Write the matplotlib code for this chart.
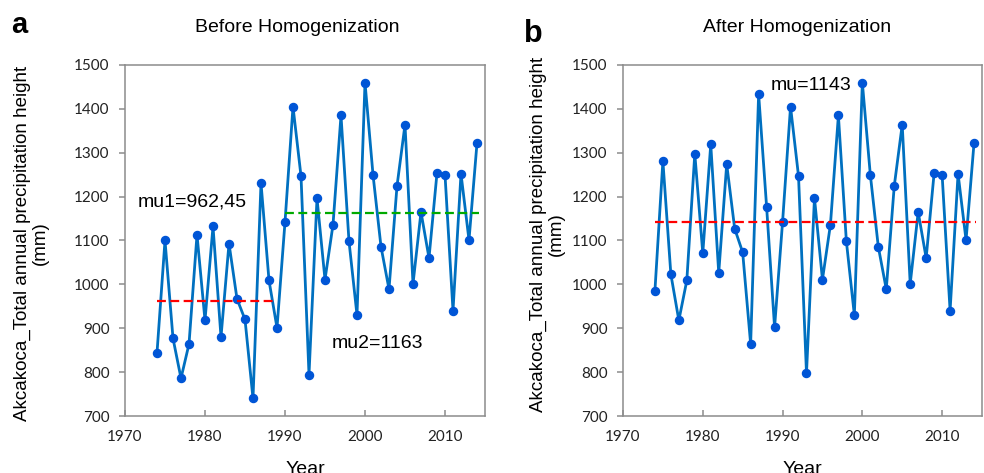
import matplotlib
matplotlib.use("Agg")
import matplotlib.pyplot as plt

# ---------------- data ----------------
years = list(range(1974, 2015))

before = [844, 1100, 877, 786, 864, 1113, 918, 1132, 880, 1093,
          967, 920, 740, 1231, 1009, 901, 1142, 1405, 1247, 794,
          1196, 1011, 1136, 1385, 1098, 930, 1460, 1250, 1086, 989,
          1224, 1364, 1001, 1165, 1060, 1254, 1250, 940, 1252, 1101, 1322]

after = [985, 1281, 1023, 918, 1009, 1298, 1071, 1319, 1026, 1274,
         1127, 1073, 864, 1434, 1177, 902, 1142, 1405, 1247, 797,
         1197, 1011, 1136, 1385, 1098, 930, 1460, 1250, 1086, 989,
         1224, 1364, 1001, 1165, 1060, 1254, 1250, 940, 1252, 1101, 1322]

mu1_years = [1974, 1988.7]
mu1 = 962.45
mu2_years = [1990, 2014.3]
mu2 = 1163
mu_years = [1974, 2014.3]
mu = 1143

xticks = [1970, 1980, 1990, 2000, 2010]
yticks = [700, 800, 900, 1000, 1100, 1200, 1300, 1400, 1500]

titles = ["Before Homogenization", "After Homogenization"]
panel_letters = ["a", "b"]
ylabel = "Akcakoca_Total annual precipitation height\n(mm)"
xlabel = "Year"

# ---------------- style ----------------
W, H = 984, 473
LINE_C = "#0070C0"
MARK_C = "#0055D6"
SPINE_C = "#8c8c8c"
TEXT_FONT = ["Liberation Sans", "DejaVu Sans"]
TICK_FONT = ["Lato", "DejaVu Sans"]

fig = plt.figure(figsize=(W / 100, H / 100), dpi=100)


def fx(px):
    return px / W


def fy(py):
    return 1 - py / H


ax1 = fig.add_axes([fx(125), fy(416), (485 - 125) / W, (416 - 65) / H])
ax2 = fig.add_axes([fx(623), fy(416), (982 - 623) / W, (416 - 65) / H])

for ax, data in ((ax1, before), (ax2, after)):
    ax.plot(years, data, color=LINE_C, lw=2.0, marker="o", ms=5.8,
            mfc=MARK_C, mec=MARK_C, zorder=3)
    ax.set_xlim(1970, 2015)
    ax.set_ylim(700, 1500)
    ax.set_xticks(xticks)
    ax.set_yticks(yticks)
    for sp in ax.spines.values():
        sp.set_color(SPINE_C)
        sp.set_linewidth(1.1)
    ax.tick_params(axis="y", direction="out", length=4, width=1.1,
                   color=SPINE_C, pad=7)
    ax.tick_params(axis="x", direction="in", length=4, width=1.1,
                   color=SPINE_C, pad=10)
    for lab in ax.get_xticklabels() + ax.get_yticklabels():
        lab.set_family(TICK_FONT)
        lab.set_fontsize(11)
        lab.set_color("#222222")

# mean lines
ax1.plot(mu1_years, [mu1, mu1], color="#FF0000", lw=1.6,
         linestyle=(0, (4, 2)), zorder=4)
ax1.plot(mu2_years, [mu2, mu2], color="#00AA00", lw=1.6,
         linestyle=(0, (4, 2)), zorder=4)
ax2.plot(mu_years, [mu, mu], color="#FF0000", lw=1.6,
         linestyle=(0, (4, 2)), zorder=4)

ax1.text(1978.4, 1188, "mu1=962,45", ha="center", va="center",
         fontsize=14, family=TEXT_FONT)
ax1.text(2001.6, 865, "mu2=1163", ha="center", va="center",
         fontsize=14, family=TEXT_FONT)
ax2.text(1993.6, 1454, "mu=1143", ha="center", va="center",
         fontsize=14, family=TEXT_FONT)

# titles
fig.text(fx(297.5), fy(31.7), titles[0], ha="center", va="baseline",
         fontsize=14, family=TEXT_FONT)
fig.text(fx(797), fy(31.7), titles[1], ha="center", va="baseline",
         fontsize=14, family=TEXT_FONT)

# panel letters
fig.text(fx(11), fy(33), panel_letters[0], ha="left", va="baseline",
         fontsize=21, fontweight="bold", family=TEXT_FONT)
fig.text(fx(524), fy(42), panel_letters[1], ha="left", va="baseline",
         fontsize=22, fontweight="bold", family=TEXT_FONT)

# y labels
fig.text(fx(31), fy(243), ylabel, rotation=90, ha="center", va="center",
         fontsize=13.5, family=TEXT_FONT, linespacing=1.05,
         multialignment="center")
fig.text(fx(547), fy(234), ylabel, rotation=90, ha="center", va="center",
         fontsize=13.5, family=TEXT_FONT, linespacing=1.05,
         multialignment="center")

# x labels
fig.text(fx(305), fy(461), xlabel, ha="center", va="top",
         fontsize=14, family=TEXT_FONT)
fig.text(fx(802.5), fy(461), xlabel, ha="center", va="top",
         fontsize=14, family=TEXT_FONT)

fig.savefig("out.png", dpi=100)
